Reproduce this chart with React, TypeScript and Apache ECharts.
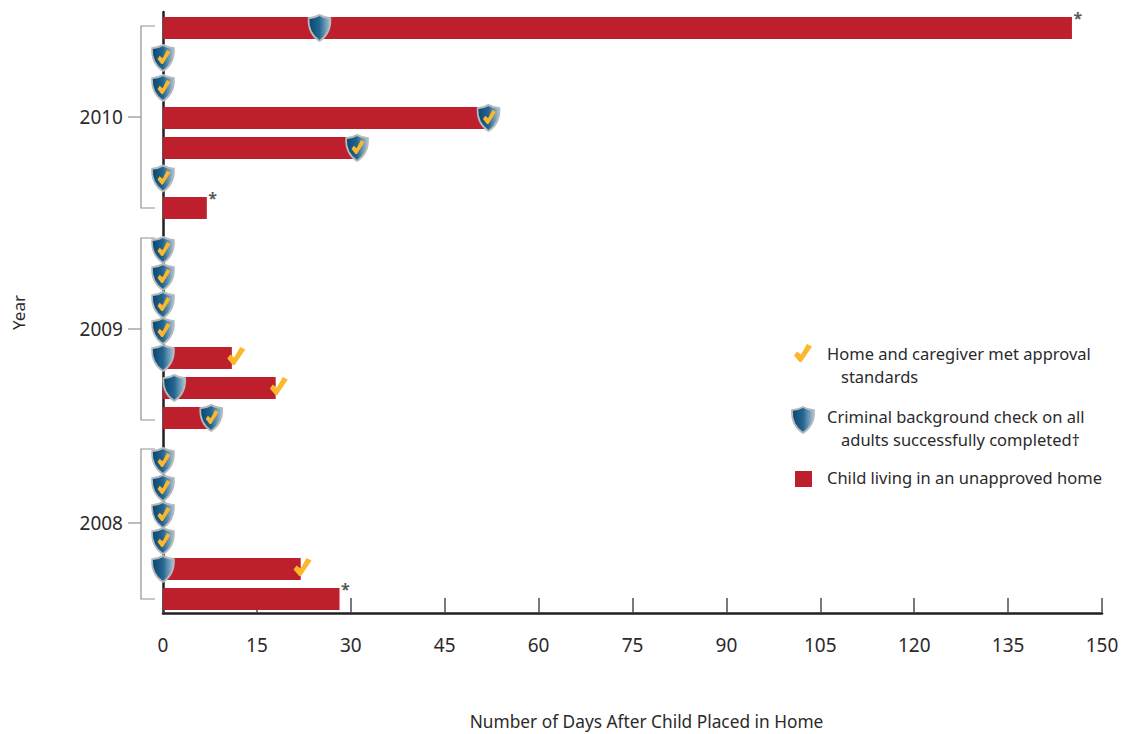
import React, { useEffect, useRef } from "react";
import * as echarts from "echarts";

const FONT = '"Noto Sans", "Open Sans", sans-serif';
const INK = "#2b2a2b";
const RED = "#bd1f2d";
const GOLD = "#fdb72b";

const SHIELD_PATH = "M11 0C14.5 2 18.5 3 22 3.2C22.6 14 18.5 21 11 26C3.5 21 -0.6 14 0 3.2C3.5 3 7.5 2 11 0Z";
const CHECK_PATH = "M0 11.5L3 7.5L7 10.5L13 0L18 2.5L7.5 18L5.5 18Z";

const xTicks = [0, 15, 30, 45, 60, 75, 90, 105, 120, 135, 150];
const years = ["2010", "2009", "2008"];
const yearCentres = [117, 329, 523];
const yearTops = [26, 238, 449];
const yearBottoms = [208, 420, 599];

// vertical position of each placement on the year axis
const rows = [28, 58, 88, 118, 148, 178.5, 208, 250, 277, 305, 331, 358, 388, 418, 461, 488, 515, 541, 569, 599];
// days a child lived in an unapproved home
const unapprovedDays = [145.2, 0, 0, 52, 31, 0, 7, 0, 0, 0, 0, 11, 18, 7.7, 0, 0, 0, 0, 22, 28.2];
// day the background check was completed
const shieldDays = [25, 0, 0, 52, 31, 0, null, 0, 0, 0, 0, 0, 1.8, 7.7, 0, 0, 0, 0, 0, null];
// day the home was approved, when that coincided with the background check
const shieldCheckDays = [null, 0, 0, 52, 31, 0, null, 0, 0, 0, 0, null, null, 7.7, 0, 0, 0, 0, null, null];
// day the home was approved, when that came after the background check
const lateCheckDays = [null, null, null, null, null, null, null, null, null, null, null, 11.7, 18.5, null, null, null, null, null, 22.3, null];
const asteriskRows = [0, 6, 19];

const legendLines = [
  { text: "Home and caregiver met approval", x: 827, y: 353 },
  { text: "standards", x: 841, y: 376 },
  { text: "Criminal background check on all", x: 827, y: 416 },
  { text: "adults successfully completed†", x: 841, y: 439 },
  { text: "Child living in an unapproved home", x: 827, y: 477 },
];

const pairs = (days: (number | null)[]) =>
  days.map((d, i) => (d === null ? null : [d, rows[i]])).filter(Boolean);

export default function App() {
  const ref = useRef<HTMLDivElement>(null);
  useEffect(() => {
    echarts.graphic.registerShape("shieldMark", echarts.graphic.extendPath(SHIELD_PATH as any, {} as any) as any);
    const chart = echarts.init(ref.current!, undefined, { renderer: "svg" });
    const shieldFill = new echarts.graphic.LinearGradient(0, 0, 1, 0, [
      { offset: 0, color: "#084670" },
      { offset: 0.5, color: "#24668f" },
      { offset: 1, color: "#a9c4d8" },
    ]);
    const shieldStroke = "#b7babc";
    chart.setOption({
      animation: false,
      backgroundColor: "#ffffff",
      grid: { left: 163, right: 29, top: 12, bottom: 121, outerBoundsMode: "none" },
      xAxis: {
        type: "value",
        position: "bottom",
        min: 0,
        max: 150,
        interval: 15,
        name: "Number of Days After Child Placed in Home",
        nameLocation: "middle",
        nameGap: 100,
        nameTextStyle: { fontFamily: FONT, fontSize: 17.3, color: INK, padding: [0, 0, 0, 28] },
        splitLine: { show: false },
        axisLine: { show: true, onZero: false, lineStyle: { color: "#231f20", width: 2.5 } },
        axisTick: { show: true, inside: true, length: 15, lineStyle: { color: "#4d4d4f", width: 1.5 } },
        axisLabel: {
          fontFamily: FONT,
          fontSize: 19,
          color: INK,
          margin: 22,
          formatter: (v: number) => (xTicks.includes(v) ? String(v) : ""),
        },
      },
      yAxis: {
        type: "value",
        inverse: true,
        min: 12,
        max: 613,
        name: "Year",
        nameLocation: "middle",
        nameGap: 136,
        nameRotate: 90,
        nameTextStyle: { fontFamily: FONT, fontSize: 17, color: INK },
        splitLine: { show: false },
        axisLine: { show: true, onZero: false, lineStyle: { color: "#231f20", width: 2.5 } },
        axisTick: { show: false },
        axisLabel: {
          customValues: yearCentres,
          fontFamily: FONT,
          fontSize: 19,
          color: INK,
          margin: 40,
          formatter: (v: number) => years[yearCentres.indexOf(v)] ?? "",
        },
      },
      series: [
        {
          type: "custom",
          name: "Year brackets",
          silent: true,
          z: 1,
          data: years.map((_, i) => [yearTops[i], yearBottoms[i], yearCentres[i]]),
          encode: { y: [0, 1, 2] },
          renderItem: (_p: any, api: any) => {
            const x0 = api.coord([0, 12])[0];
            const top = api.coord([0, api.value(0)])[1];
            const bottom = api.coord([0, api.value(1)])[1];
            const mid = api.coord([0, api.value(2)])[1];
            const style = { stroke: "#8f9193", lineWidth: 1.2, fill: "none" };
            return {
              type: "group",
              children: [
                { type: "polyline", shape: { points: [[x0 - 8, top], [x0 - 22, top], [x0 - 22, bottom], [x0 - 8, bottom]] }, style },
                { type: "line", shape: { x1: x0 - 35, y1: mid, x2: x0 - 22, y2: mid }, style },
              ],
            };
          },
        },
        {
          type: "custom",
          name: "Child living in an unapproved home",
          silent: true,
          z: 2,
          data: unapprovedDays.map((d, i) => [d, rows[i]]).filter((p) => p[0] > 0),
          encode: { x: 0, y: 1 },
          renderItem: (_p: any, api: any) => {
            const a = api.coord([0, api.value(1)]);
            const b = api.coord([api.value(0), api.value(1)]);
            const h = 22;
            return {
              type: "rect",
              shape: { x: a[0], y: a[1] - h / 2, width: b[0] - a[0], height: h },
              style: { fill: RED },
            };
          },
        },
        {
          type: "scatter",
          name: "Criminal background check on all adults successfully completed",
          silent: true,
          z: 3,
          symbol: "path://" + SHIELD_PATH,
          symbolSize: [22, 26],
          symbolKeepAspect: false,
          itemStyle: { color: shieldFill, borderColor: shieldStroke, borderWidth: 1.8, opacity: 1 },
          data: pairs(shieldDays),
        },
        {
          type: "scatter",
          name: "Approval shown on the shield",
          silent: true,
          z: 4,
          symbol: "path://" + CHECK_PATH,
          symbolSize: [13, 14],
          symbolOffset: [1, -1],
          itemStyle: { color: GOLD, opacity: 1 },
          data: pairs(shieldCheckDays),
        },
        {
          type: "scatter",
          name: "Home and caregiver met approval standards",
          silent: true,
          z: 4,
          symbol: "path://" + CHECK_PATH,
          symbolSize: [18, 18],
          symbolOffset: [0, -2],
          itemStyle: { color: GOLD, opacity: 1 },
          data: pairs(lateCheckDays),
        },
        {
          type: "scatter",
          name: "Footnote",
          silent: true,
          z: 4,
          symbolSize: 1,
          itemStyle: { color: "rgba(0,0,0,0)" },
          data: asteriskRows.map((i) => [unapprovedDays[i], rows[i]]),
          label: {
            show: true,
            position: "right",
            distance: 1,
            offset: [0, -10],
            formatter: "*",
            fontFamily: FONT,
            fontSize: 16,
            fontWeight: "bold",
            color: INK,
          },
        },
      ],
      graphic: [
        { type: "shieldMark", x: 792, y: 407, style: { fill: shieldFill, stroke: shieldStroke, lineWidth: 1.8 } },
        { type: "polygon", shape: { points: [[794, 355.5], [797, 351.5], [801, 354.5], [807, 344], [812, 346.5], [801.5, 362], [799.5, 362]] }, style: { fill: GOLD } },
        { type: "rect", shape: { x: 795, y: 471, width: 17, height: 16 }, style: { fill: RED } },
        ...legendLines.map((l) => ({
          type: "text",
          x: l.x,
          y: l.y,
          style: { text: l.text, fontFamily: FONT, fontSize: 16.5, fill: INK, textVerticalAlign: "middle" },
        })),
      ],
    });
    return () => chart.dispose();
  }, []);
  return <div ref={ref} style={{ position: "absolute", left: 0, top: 0, width: 1131, height: 734 }} />;
}
